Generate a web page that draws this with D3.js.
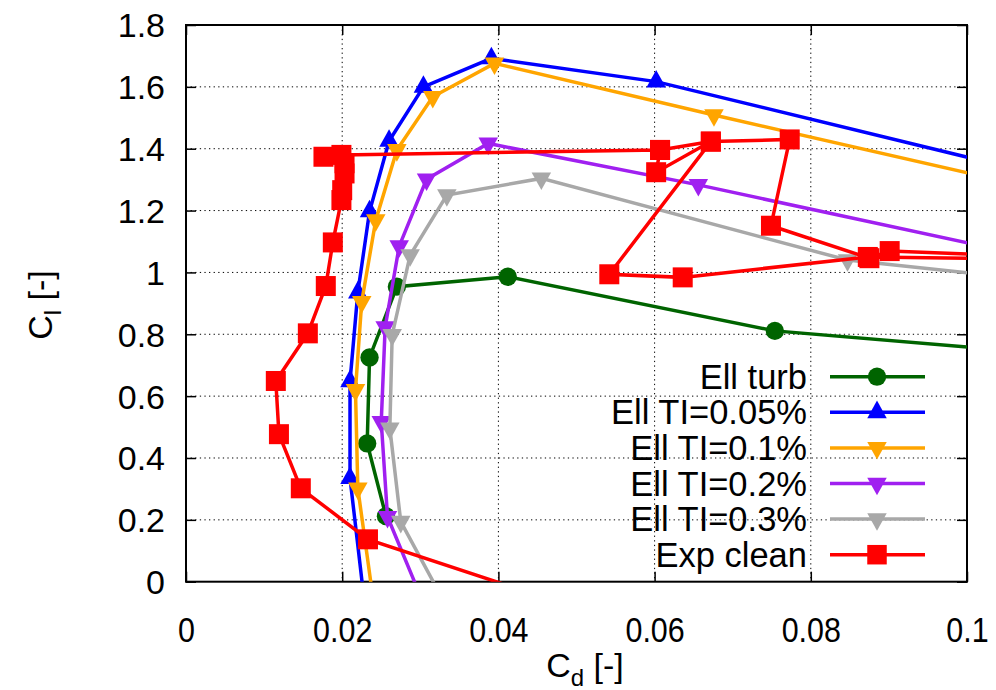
<!DOCTYPE html>
<html><head><meta charset="utf-8">
<script src="https://cdn.jsdelivr.net/npm/d3@7"></script>
<style>
html,body{margin:0;padding:0;background:#fff;}
svg{display:block;font-family:"Liberation Sans",Arial,Helvetica,sans-serif;}
</style></head>
<body>
<svg id="chart" width="996" height="690"></svg>
<script>
// ---- data (Cd, Cl) ----
const seriesNames = ["Ell turb","Ell TI=0.05%","Ell TI=0.1%","Ell TI=0.2%","Ell TI=0.3%","Exp clean"];
const cdTurb = [0.0256, 0.0232, 0.0235, 0.0270, 0.0412, 0.0754, 0.120];
const clTurb = [0.212, 0.447, 0.725, 0.954, 0.986, 0.811, 0.717];
const cdTI005 = [0.0230, 0.0210, 0.0210, 0.0220, 0.0235, 0.0260, 0.0304, 0.0391, 0.0602, 0.120];
const clTI005 = [-0.1, 0.335, 0.648, 0.935, 1.197, 1.425, 1.600, 1.692, 1.617, 1.250];
const cdTI01 = [0.0242, 0.0220, 0.0217, 0.0225, 0.0243, 0.0270, 0.0316, 0.0395, 0.0676, 0.120];
const clTI01 = [-0.1, 0.302, 0.620, 0.905, 1.169, 1.396, 1.568, 1.676, 1.509, 1.207];
const cdTI02 = [0.0309, 0.0258, 0.0250, 0.0255, 0.0273, 0.0308, 0.0387, 0.0656, 0.120];
const clTI02 = [-0.1, 0.210, 0.517, 0.823, 1.085, 1.301, 1.417, 1.283, 0.987];
const cdTI03 = [0.0338, 0.0275, 0.0261, 0.0264, 0.0287, 0.0334, 0.0455, 0.0847, 0.120];
const clTI03 = [-0.1, 0.194, 0.496, 0.798, 1.056, 1.250, 1.304, 1.040, 0.945];
const cdExp = [0.0517, 0.0233, 0.0147, 0.0119, 0.0115, 0.0156, 0.0179, 0.0188, 0.0199, 0.0200, 0.0203, 0.0203, 0.0176, 0.0199, 0.0607, 0.0672, 0.0773, 0.0749, 0.0875, 0.0901, 0.120, 0.0873, 0.0636, 0.0542, 0.0672, 0.0602, 0.0607];
const clExp = [-0.1, 0.137, 0.302, 0.477, 0.649, 0.803, 0.956, 1.097, 1.234, 1.266, 1.320, 1.353, 1.374, 1.380, 1.396, 1.423, 1.430, 1.151, 1.046, 1.069, 1.040, 1.050, 0.984, 0.994, 1.423, 1.324, 1.396];
const xTicks = [0, 0.02, 0.04, 0.06, 0.08, 0.1];
const xTickLabels = ["0","0.02","0.04","0.06","0.08","0.1"];
const yTicks = [0,0.2,0.4,0.6,0.8,1,1.2,1.4,1.6,1.8];
const yTickLabels = ["0","0.2","0.4","0.6","0.8","1","1.2","1.4","1.6","1.8"];

const colors = ["#006400","#0000ff","#ffa500","#a020f0","#a8a8a8","#ff0000"];
const markers = ["circle","up","down","down","down","square"];
const seriesData = [[cdTurb,clTurb],[cdTI005,clTI005],[cdTI01,clTI01],[cdTI02,clTI02],[cdTI03,clTI03],[cdExp,clExp]];

const L=186, R=967, T=25, B=581.7;
const x = d3.scaleLinear().domain([0,0.1]).range([L,R]);
const y = d3.scaleLinear().domain([0,1.8]).range([B,T]);
const svg = d3.select("#chart");

svg.append("defs").append("clipPath").attr("id","clip")
  .append("rect").attr("x",L).attr("y",T).attr("width",R-L).attr("height",B-T);

// grid
const grid = svg.append("g");
grid.selectAll(".gx").data(xTicks.slice(1,-1)).enter().append("line")
  .attr("x1",d=>x(d)).attr("x2",d=>x(d)).attr("y1",T).attr("y2",B)
  .attr("stroke","#000").attr("stroke-width",1).attr("stroke-dasharray","1.3,3.3");
grid.selectAll(".gy").data(yTicks.slice(1,-1)).enter().append("line")
  .attr("y1",d=>y(d)).attr("y2",d=>y(d)).attr("x1",L).attr("x2",R)
  .attr("stroke","#000").attr("stroke-width",1).attr("stroke-dasharray","1.3,3.3");

// axes (ticks inward, mirrored)
const tl = 10;
const axB = svg.append("g").attr("transform",`translate(0,${B})`)
  .call(d3.axisBottom(x).tickValues(xTicks).tickSize(-tl).tickFormat((d,i)=>xTickLabels[i]));
const axT = svg.append("g").attr("transform",`translate(0,${T})`)
  .call(d3.axisTop(x).tickValues(xTicks).tickSize(-tl).tickFormat(""));
const axL = svg.append("g").attr("transform",`translate(${L},0)`)
  .call(d3.axisLeft(y).tickValues(yTicks).tickSize(-tl).tickFormat((d,i)=>yTickLabels[i]));
const axR = svg.append("g").attr("transform",`translate(${R},0)`)
  .call(d3.axisRight(y).tickValues(yTicks).tickSize(-tl).tickFormat(""));
[axB,axT,axL,axR].forEach(a=>{
  a.select(".domain").remove();
  a.selectAll(".tick line").attr("stroke","#000").attr("stroke-width",1.5);
  a.selectAll("text").attr("fill","#000").style("font-size","34px");
});
axB.selectAll("text").style("font-size","35px").attr("y",35).attr("dy","0.71em")
  .attr("transform","scale(0.87,1)");
axL.selectAll("text").attr("x",-21).attr("dy","0.35em");

// border
svg.append("rect").attr("x",L).attr("y",T).attr("width",R-L).attr("height",B-T)
  .attr("fill","none").attr("stroke","#000").attr("stroke-width",2);

// marker symbol
function drawMarker(g, type, cx, cy, color, s){
  if(type==="circle"){
    g.append("circle").attr("cx",cx).attr("cy",cy).attr("r",s*0.47).attr("fill",color);
  } else if(type==="square"){
    g.append("rect").attr("x",cx-s/2).attr("y",cy-s/2).attr("width",s).attr("height",s).attr("fill",color);
  } else {
    const h = s*0.9, w = s*1.0;
    const sgn = type==="up" ? -1 : 1;
    const pts = [[cx-w/2, cy - sgn*h/3],[cx+w/2, cy - sgn*h/3],[cx, cy + sgn*2*h/3]];
    g.append("path").attr("d","M"+pts.map(p=>p.join(",")).join("L")+"Z").attr("fill",color);
  }
}

const plot = svg.append("g").attr("clip-path","url(#clip)");
const line = d3.line().x(d=>x(d[0])).y(d=>y(d[1]));
seriesData.forEach((sd,i)=>{
  const pts = sd[0].map((c,j)=>[c, sd[1][j]]);
  const g = plot.append("g");
  g.append("path").attr("d",line(pts)).attr("fill","none")
    .attr("stroke",colors[i]).attr("stroke-width",3.5).attr("stroke-linejoin","miter");
  const sz = markers[i]==="square" ? 20 : 19.5;
  pts.forEach(p=>{
    const px=x(p[0]), py=y(p[1]);
    if(px>=L-15 && px<=R+15 && py>=T-15 && py<=B+15) drawMarker(g, markers[i], px, py, colors[i], sz);
  });
});

// legend
const leg = svg.append("g");
seriesNames.forEach((n,i)=>{
  const ly = 376.7 + i*35.6;
  leg.append("text").attr("x",807).attr("y",ly).attr("dy","0.35em")
    .attr("text-anchor","end").style("font-size","34.5px").attr("fill","#000").text(n);
  leg.append("line").attr("x1",830).attr("x2",925).attr("y1",ly).attr("y2",ly)
    .attr("stroke",colors[i]).attr("stroke-width",3.5);
  drawMarker(leg, markers[i], 877, ly, colors[i], 19.5);
});

// axis titles
const yl = svg.append("text").attr("transform","translate(52,305) rotate(-90)")
  .attr("text-anchor","middle").style("font-size","34px").attr("fill","#000");
yl.append("tspan").text("C");
yl.append("tspan").attr("dy",9).style("font-size","24px").text("l");
yl.append("tspan").attr("dy",-9).text(" [-]");
const xl = svg.append("text").attr("x",585).attr("y",677)
  .attr("text-anchor","middle").style("font-size","34px").attr("fill","#000");
xl.append("tspan").text("C");
xl.append("tspan").attr("dy",9).style("font-size","24px").text("d");
xl.append("tspan").attr("dy",-9).text(" [-]");
</script>
</body></html>
